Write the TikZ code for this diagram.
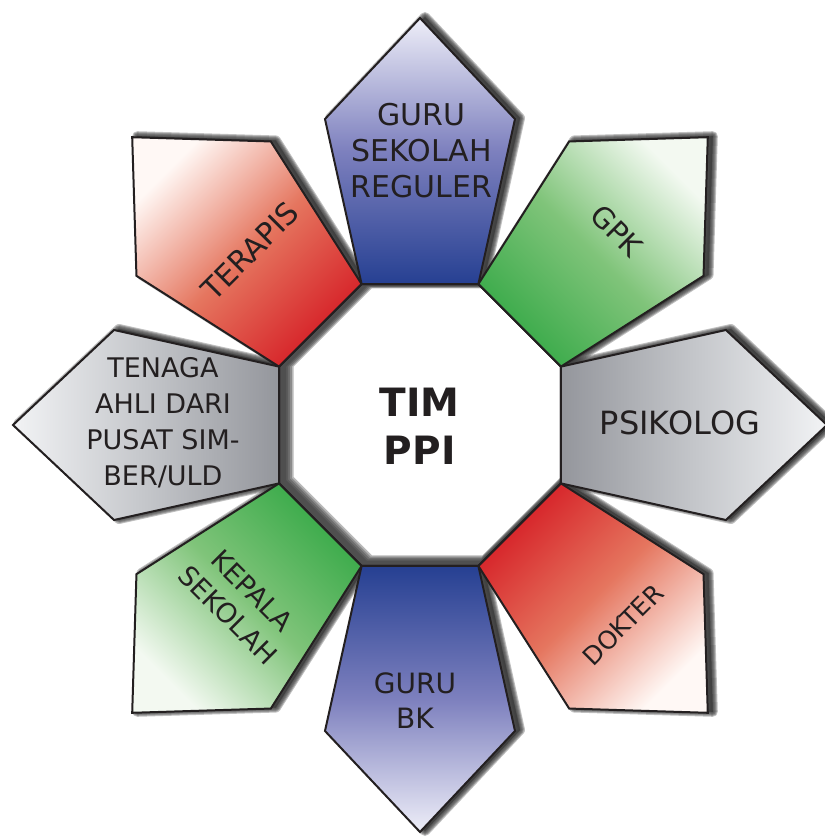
\documentclass[tikz,border=0pt]{standalone}
\usepackage{fontspec}
\setmainfont{DejaVu Sans}

\definecolor{ink}{RGB}{35,31,32}
\definecolor{blueD}{RGB}{38,64,146}
\definecolor{blueM}{RGB}{125,128,190}
\definecolor{blueL}{RGB}{238,238,248}
\definecolor{greenD}{RGB}{57,170,73}
\definecolor{greenM}{RGB}{128,196,122}
\definecolor{greenL}{RGB}{243,249,241}
\definecolor{grayD}{RGB}{148,150,156}
\definecolor{grayM}{RGB}{196,198,202}
\definecolor{grayL}{RGB}{242,243,245}
\definecolor{redD}{RGB}{214,32,39}
\definecolor{redM}{RGB}{229,118,95}
\definecolor{redL}{RGB}{255,248,245}
\definecolor{shadowgray}{RGB}{60,60,60}

% radii of the octagon corners, the petal shoulders and the petal tips
\def\Rin{152.6}
\def\Rsh{320.4}
\def\Rtip{407}
% octagon of corner radius #1, moved by (#2,#3)
\newcommand\octpathsh[3]{([shift={(#2,#3)}]22.5:#1) -- ([shift={(#2,#3)}]67.5:#1)
  -- ([shift={(#2,#3)}]112.5:#1) -- ([shift={(#2,#3)}]157.5:#1) -- ([shift={(#2,#3)}]202.5:#1)
  -- ([shift={(#2,#3)}]247.5:#1) -- ([shift={(#2,#3)}]292.5:#1) -- ([shift={(#2,#3)}]337.5:#1) -- cycle}
\newcommand\octpath{(22.5:\Rin) -- (67.5:\Rin) -- (112.5:\Rin) -- (157.5:\Rin) -- (202.5:\Rin) -- (247.5:\Rin) -- (292.5:\Rin) -- (337.5:\Rin) -- cycle}
\newcommand\petalpath[1]{(#1-22.5:\Rin) -- (#1-17.25:\Rsh) -- (#1:\Rtip) -- (#1+17.25:\Rsh) -- (#1+22.5:\Rin) -- cycle}
\newcommand\fs[2]{\fontsize{#1}{#2}\selectfont}

% soft shadow behind a petal, built from widening translucent layers
\newcommand\petalshadow[1]{%
  \begin{scope}[shift={(5,1)}, line join=round]
    \foreach \w in {2,4,6,8,10} {
      \filldraw[shadowgray, opacity=0.32, line width=\w] \petalpath{#1};
    }
  \end{scope}}
% shaded petal: dark at the octagon, light at the tip
\newcommand\petal[5]{%
  \shadedraw[top color=#4, bottom color=#2, middle color=#3, shading angle=#5,
             draw=ink, line width=2, line join=miter] \petalpath{#1};}

\tikzset{
  lbl/.style={text=ink, align=center, inner sep=0pt},
}

\begin{document}
\begin{tikzpicture}[x=1pt, y=1pt]
\useasboundingbox (-420,-414) rectangle (405,425);

% shadows of the eight petals
\foreach \a in {90,45,0,-45,-90,-135,180,135} {\petalshadow{\a}}

% central octagon
\fill[white] \octpath;
% inner shadow: rings between the rim and a smaller octagon moved up and right
\foreach \c in {0.8,1.0,1.2,1.4,1.6} {
  \pgfmathsetmacro\rr{\Rin-1.0824*4.65*\c}
  \pgfmathsetmacro\sx{4.5*\c}
  \pgfmathsetmacro\sy{2*\c}
  \fill[shadowgray, opacity=0.36, even odd rule] \octpath \octpathsh{\rr}{\sx}{\sy};
}
\draw[ink, line width=2, line join=miter] \octpath;

% petals
\petal{90}{blueD}{blueM}{blueL}{0}
\petal{45}{greenD}{greenM}{greenL}{-45}
\petal{0}{grayD}{grayM}{grayL}{-90}
\petal{-45}{redD}{redM}{redL}{-135}
\petal{-90}{blueD}{blueM}{blueL}{180}
\petal{-135}{greenD}{greenM}{greenL}{135}
\petal{180}{grayD}{grayM}{grayL}{90}
\petal{135}{redD}{redM}{redL}{45}

% labels
\node[lbl, font=\bfseries\fs{39}{48}] (tim) at (-0.3,-1.3) {TIM\\PPI};
\node[lbl, font=\fs{30}{36}] (guru) at (1.6,274) {GURU\\SEKOLAH\\REGULER};
\node[lbl, font=\fs{29}{34}, rotate=-45] (gpk) at (196.7,194.3) {GPK};
\node[lbl, font=\fs{32}{36}] (psikolog) at (260,1.7) {PSIKOLOG};
\node[lbl, font=\fs{25}{30}, rotate=45] (dokter) at (203,-200) {DOKTER};
\node[lbl, font=\fs{28}{35}] (gurubk) at (-5,-276) {GURU\\BK};
\node[lbl, font=\fs{27}{34}, rotate=-45] (kepala) at (-180,-178) {KEPALA\\SEKOLAH};
\node[lbl, font=\fs{27}{36}] (tenaga) at (-257,2.5) {TENAGA\\AHLI DARI\\PUSAT SIM-\\BER/ULD};
\node[lbl, font=\fs{30}{36}, rotate=45] (terapis) at (-170,174) {TERAPIS};
\end{tikzpicture}
\end{document}
